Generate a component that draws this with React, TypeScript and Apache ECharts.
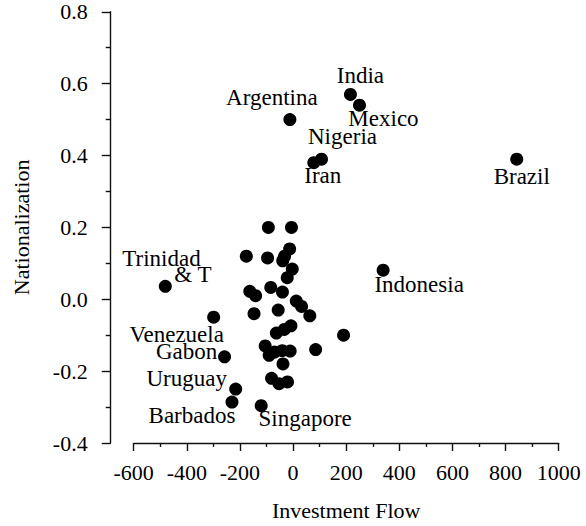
import React, { useEffect, useRef } from "react";
import * as echarts from "echarts";

// Country labels ("" = unlabeled point)
const countries: string[] = [
  "Argentina", "India", "Mexico", "Nigeria", "Iran", "Brazil", "Indonesia",
  "Trinidad & T", "Venezuela", "Gabon", "Uruguay", "Barbados", "Singapore",
  "", "", "", "", "", "", "", "", "", "", "", "", "", "", "", "",
  "", "", "", "", "", "", "", "", "", "", "", "", "", "", "", "",
];

// Investment Flow (x)
const investmentFlow: number[] = [
  -12, 216, 250, 107, 78, 842, 339,
  -481, -299, -258, -216, -230, -120,
  -93, -6, -176, -96, -13, -32, -39, -3, -22, -163, -141, -84, -40, 12,
  32, -56, -147, 63, -8, -33, -63, -105, -70, -41, -11, -90, -38, 85,
  -81, -53, -21, 190,
];

// Nationalization (y)
const nationalization: number[] = [
  0.5, 0.57, 0.54, 0.39, 0.38, 0.39, 0.081,
  0.036, -0.05, -0.16, -0.25, -0.286, -0.296,
  0.2, 0.2, 0.12, 0.115, 0.14, 0.12, 0.107, 0.084, 0.06, 0.022, 0.01, 0.033, 0.02, -0.005,
  -0.02, -0.03, -0.04, -0.046, -0.074, -0.084, -0.094, -0.13, -0.147, -0.143, -0.144, -0.156, -0.18, -0.14,
  -0.22, -0.235, -0.23, -0.1,
];

const xTicks = { min: -600, max: 1000, interval: 200 };
const yTicks = { min: -0.4, max: 0.8, interval: 0.2 };

// label offsets (layout only), relative to point centre
const labelOffsets: Record<string, [number, number]> = {
  Argentina: [-18, -22],
  India: [10, -19],
  Mexico: [24, 13],
  Nigeria: [21, -23],
  Iran: [9, 13],
  Brazil: [5, 17],
  Indonesia: [36, 14],
  Venezuela: [-37, 17],
  Gabon: [-38, -5],
  Uruguay: [-49, -11],
  Barbados: [-40, 13],
  Singapore: [44, 13],
};

const FONT = '"Liberation Serif", "Times New Roman", serif';
const INK = "#000";
const LABEL_SIZE = 23;

export default function App() {
  const ref = useRef<HTMLDivElement>(null);
  useEffect(() => {
    if (!ref.current) return;
    const chart = echarts.init(ref.current, undefined, { renderer: "svg" });

    const data = countries.map((name, i) => {
      const item: any = { name, value: [investmentFlow[i], nationalization[i]] };
      if (name === "Trinidad & T") {
        item.label = {
          show: true,
          position: "inside",
          align: "left",
          verticalAlign: "top",
          offset: [-43, -36],
          formatter: "{a|Trinidad}\n{b|& T}",
          rich: {
            a: { fontFamily: FONT, fontSize: LABEL_SIZE, color: INK, lineHeight: 16 },
            b: { fontFamily: FONT, fontSize: LABEL_SIZE, color: INK, lineHeight: 16, padding: [0, 0, 0, 52] },
          },
        };
      } else if (name) {
        item.label = {
          show: true,
          position: "inside",
          align: "center",
          verticalAlign: "middle",
          offset: labelOffsets[name] || [0, 0],
          formatter: name,
        };
      }
      return item;
    });

    const lineStyle = { color: "#111", width: 1.4 };

    chart.setOption({
      animation: false,
      backgroundColor: "#fff",
      grid: { left: 133.7, right: 27.3, top: 11.8, bottom: 83, containLabel: false },
      xAxis: {
        type: "value",
        min: xTicks.min,
        max: xTicks.max,
        interval: xTicks.interval,
        name: "Investment Flow",
        nameLocation: "middle",
        nameGap: 56,
        nameTextStyle: { fontFamily: FONT, fontSize: 22, color: INK },
        axisLine: { show: true, onZero: false, lineStyle },
        axisTick: { show: true, length: 8, inside: false, lineStyle },
        minorTick: { show: true, splitNumber: 2, length: 4, lineStyle },
        splitLine: { show: false },
        minorSplitLine: { show: false },
        axisLabel: {
          fontFamily: FONT,
          fontSize: 22,
          color: INK,
          margin: 18,
          showMinLabel: true,
          showMaxLabel: true,
          formatter: (v: number) => String(v),
        },
      },
      yAxis: {
        type: "value",
        min: yTicks.min,
        max: yTicks.max,
        interval: yTicks.interval,
        offset: 23,
        name: "Nationalization",
        nameLocation: "middle",
        nameGap: 78,
        nameTextStyle: { fontFamily: FONT, fontSize: 22, color: INK },
        axisLine: { show: true, onZero: false, lineStyle },
        axisTick: { show: true, length: 9, inside: false, lineStyle },
        minorTick: { show: true, splitNumber: 2, length: 5, lineStyle },
        splitLine: { show: false },
        minorSplitLine: { show: false },
        axisLabel: {
          fontFamily: FONT,
          fontSize: 22,
          color: INK,
          margin: 23,
          showMinLabel: true,
          showMaxLabel: true,
          formatter: (v: number) => (Math.abs(v) < 1e-9 ? 0 : v).toFixed(1),
        },
      },
      series: [
        {
          type: "scatter",
          symbol: "circle",
          symbolSize: 13,
          itemStyle: { color: "#000", opacity: 1 },
          label: {
            show: false,
            fontFamily: FONT,
            fontSize: LABEL_SIZE,
            lineHeight: 16,
            color: INK,
          },
          emphasis: { disabled: true },
          data,
        },
      ],
    });
    return () => chart.dispose();
  }, []);

  return (
    <div
      ref={ref}
      style={{ position: "fixed", left: 0, top: 0, width: 586, height: 526, background: "#fff" }}
    />
  );
}
